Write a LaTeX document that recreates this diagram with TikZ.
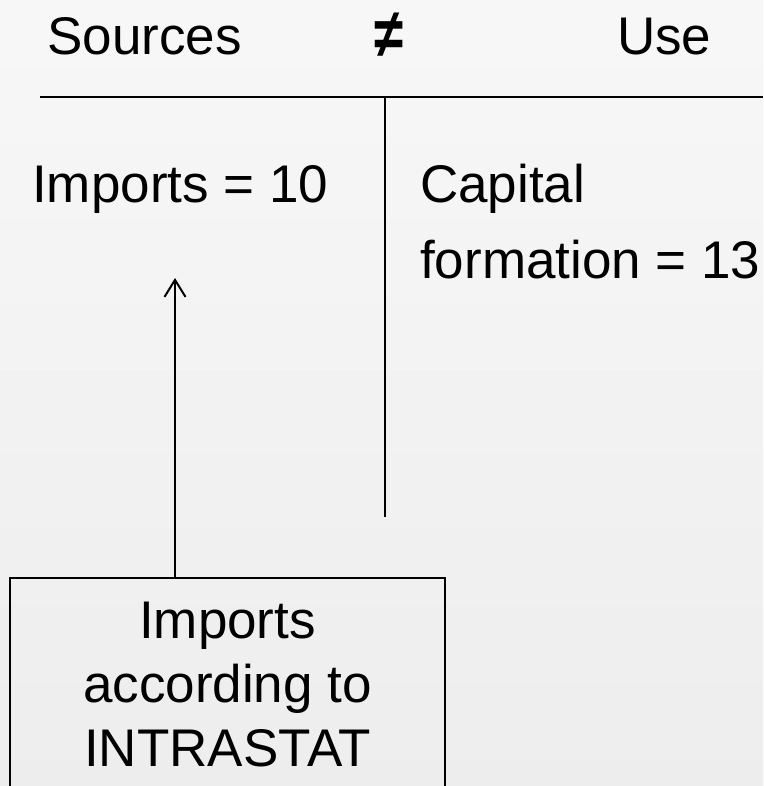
\documentclass[tikz,border=0pt]{standalone}
\usepackage{fontspec}
\setmainfont{Liberation Sans}
\usetikzlibrary{arrows.meta}

\begin{document}
\begin{tikzpicture}[x=1pt,y=-1pt]
\tikzstyle{lien}=[-{Straight Barb[length=17pt,width=21pt,line width=2pt]},line width=2pt]
\tikzset{texte/.style={font=\fontsize{53}{64}\selectfont,inner sep=0pt,anchor=base west},
cadre/.style={draw,line width=2pt,font=\fontsize{53}{64}\selectfont,align=center,
minimum width=435pt,minimum height=214pt,anchor=north,inner sep=0pt}}
\useasboundingbox[top color=white!97!black,bottom color=white!93!black] (0,0) rectangle (763,786);

\node[texte] (src) at (47,55) {Sources};
\node[texte,font=\fontsize{53}{64}\selectfont\bfseries,yscale=1.3,anchor=center] (neq) at (389,35) {≠};
\node[texte] (use) at (617,55) {Use};
\node[texte] (imp) at (32,203) {Imports = 10};
\node[texte] (cap) at (420,203) {Capital};
\node[texte] (form) at (420,278) {formation = 13};
\node[cadre] (intra) at (227.5,577) {Imports\\according to\\INTRASTAT};

\coordinate (hg) at (40,97);
\coordinate (hd) at (763,97);
\coordinate (vb) at (385,517);
\coordinate (tip) at (175,278);

\draw[line width=2pt] (hg) -- (hd);
\draw[line width=2pt] (hg -| vb) -- (vb);
\draw[lien] (intra.north -| tip) -- (tip);

\end{tikzpicture}
\end{document}
